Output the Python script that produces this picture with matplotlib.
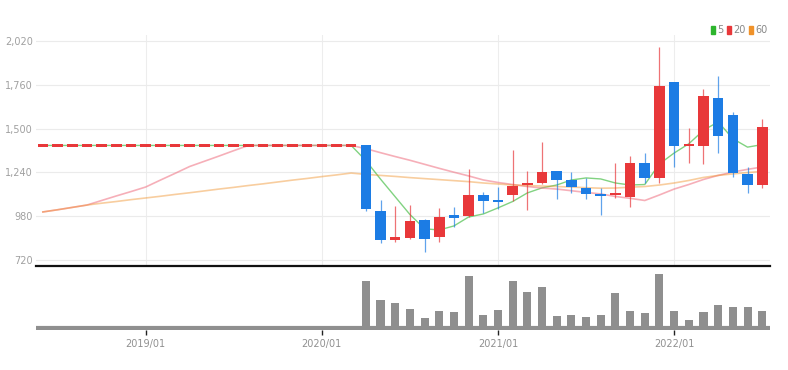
import matplotlib
matplotlib.use("Agg")
import matplotlib.pyplot as plt
from matplotlib import font_manager
from matplotlib.patches import Patch
from matplotlib.ticker import FuncFormatter
import numpy as np
import pandas as pd

# monthly candles, 2018/06 .. 2022/07 (flat 1,400 before listing)
months = pd.period_range("2018-06", "2022-07", freq="M")
pre_months = 22

opens = [1400] * pre_months + [1400, 1011, 840, 849, 957, 855, 987, 981, 1106, 1076, 1104, 1165, 1179, 1250,
                               1195, 1149, 1112, 1104, 1096, 1298, 1205, 1775, 1397, 1397, 1680, 1581, 1231, 1165]
highs = [1400] * pre_months + [1400, 1076, 1040, 1047, 963, 1030, 1033, 1258, 1125, 1155, 1373, 1250, 1422, 1250,
                               1244, 1205, 1146, 1298, 1337, 1353, 1983, 1775, 1502, 1733, 1812, 1600, 1274, 1555]
lows = [1400] * pre_months + [1011, 821, 825, 845, 769, 829, 918, 973, 997, 1023, 1072, 1017, 1170, 1080,
                              1116, 1080, 987, 1086, 1033, 1175, 1175, 1270, 1298, 1290, 1357, 1211, 1120, 1146]
closes = [1400] * pre_months + [1025, 839, 855, 953, 843, 977, 971, 1104, 1070, 1062, 1161, 1179, 1244, 1195,
                                1155, 1112, 1100, 1116, 1294, 1205, 1755, 1397, 1407, 1694, 1456, 1235, 1165, 1511]
volumes = [0] * pre_months + [145, 86, 78, 58, 30, 51, 48, 160, 40, 55, 145, 111, 126, 38,
                              40, 33, 40, 106, 51, 46, 166, 53, 25, 50, 71, 66, 66, 51]

ma5 = [1400] * pre_months + [1310, 1200, 1095, 990, 905, 898, 922, 975, 993, 1029, 1067, 1118, 1148, 1165,
                             1195, 1207, 1201, 1177, 1165, 1168, 1290, 1355, 1410, 1490, 1540, 1440, 1390, 1405]
ma20 = [1005, 1018, 1032, 1046, 1073, 1100, 1126, 1153, 1194, 1234, 1275, 1306, 1337, 1369, 1400,
        1400, 1400, 1400, 1400, 1400, 1400, 1400,
        1381, 1357, 1334, 1312, 1288, 1264, 1241, 1219, 1195, 1180, 1168, 1156, 1147, 1141,
        1131, 1121, 1112, 1097, 1086, 1073, 1106, 1141, 1168, 1198, 1222, 1242, 1258, 1272]
ma60 = [1005, 1018, 1032, 1046, 1057, 1067, 1078, 1088, 1098, 1109, 1119, 1130, 1141, 1151, 1162,
        1172, 1183, 1194, 1204, 1215, 1225, 1236,
        1228, 1222, 1216, 1209, 1203, 1197, 1191, 1185, 1177, 1171, 1165, 1162, 1159, 1156,
        1153, 1149, 1146, 1147, 1152, 1156, 1165, 1177, 1192, 1210, 1222, 1231, 1239, 1246]

price_ticks = [720, 980, 1240, 1500, 1760, 2020]
year_labels = ["2019/01", "2020/01", "2021/01", "2022/01"]

UP = "#e8383a"
DOWN = "#1c7ce4"
MA_COLORS = {"5": "#2db52d", "20": "#e8383a", "60": "#f0922a"}

names = {f.name for f in font_manager.fontManager.ttflist}
narrow = "Liberation Sans Narrow" if "Liberation Sans Narrow" in names else "DejaVu Sans"
plt.rcParams["font.family"] = [narrow, "DejaVu Sans"]

x = np.arange(len(months))
o, h, l, c = map(np.array, (opens, highs, lows, closes))
colors = [UP if cc >= oo else DOWN for oo, cc in zip(o, c)]

fig = plt.figure(figsize=(7.88, 3.70), dpi=100)
ax = fig.add_axes([0.0451, 0.2811, 0.9315, 0.6243])
vax = fig.add_axes([0.0451, 0.1081, 0.9315, 0.1676], sharex=ax)

# moving averages
ax.plot(x, ma5, color=MA_COLORS["5"], lw=1, alpha=0.6, zorder=2)
ax.plot(x, ma20, color="#f07a8a", lw=1.2, alpha=0.6, zorder=2)
ax.plot(x, ma60, color=MA_COLORS["60"], lw=1.2, alpha=0.45, zorder=2)

# candles
ax.vlines(x, l, h, colors=colors, lw=0.9, alpha=0.7, zorder=3)
body_lo = np.minimum(o, c)
body_h = np.maximum(np.abs(c - o), 14)
body_lo = np.where(np.abs(c - o) < 14, (o + c) / 2 - 7, body_lo)
ax.bar(x, body_h, bottom=body_lo, width=0.72, color=colors, zorder=4)

ax.set_xlim(-0.5, len(months) - 0.5)
ax.set_ylim(684, 2056)
ax.set_yticks(price_ticks)
ax.yaxis.set_major_formatter(FuncFormatter(lambda v, _: f"{v:,.0f}"))
ax.tick_params(axis="y", length=0, pad=2, labelsize=7, labelcolor="#a0a0a0")
ax.grid(True, axis="y", color="#ebebeb", lw=0.8)
year_pos = [list(months.strftime("%Y/%m")).index(lab) for lab in year_labels]
ax.set_xticks(year_pos)
ax.grid(True, axis="x", color="#ededed", lw=0.8)
ax.tick_params(axis="x", length=0, labelbottom=False)
ax.set_axisbelow(True)
for side in ("top", "right", "left"):
    ax.spines[side].set_visible(False)
ax.spines["bottom"].set_color("#111111")
ax.spines["bottom"].set_linewidth(1.6)

# volume
vax.bar(x, volumes, width=0.55, color="#8f8f8f", zorder=3)
vax.axhline(0, color="#8f8f8f", lw=3, zorder=2)
vax.set_ylim(-6, 184)
vax.set_yticks([])
vax.set_xticks(year_pos)
vax.set_xticklabels(year_labels)
vax.tick_params(axis="x", length=3.5, width=1, color="#222222", labelsize=7, labelcolor="#909090", pad=3)
for side in ("top", "right", "left", "bottom"):
    vax.spines[side].set_visible(False)

handles = [Patch(color=col) for col in MA_COLORS.values()]
fig.legend(handles, list(MA_COLORS.keys()), loc="upper right", bbox_to_anchor=(0.985, 0.955), ncol=3,
           frameon=False, fontsize=7, handlelength=0.4, handleheight=0.9, handletextpad=0.2,
           columnspacing=0.4, labelcolor="#888888")

fig.savefig("out.png", dpi=100)
